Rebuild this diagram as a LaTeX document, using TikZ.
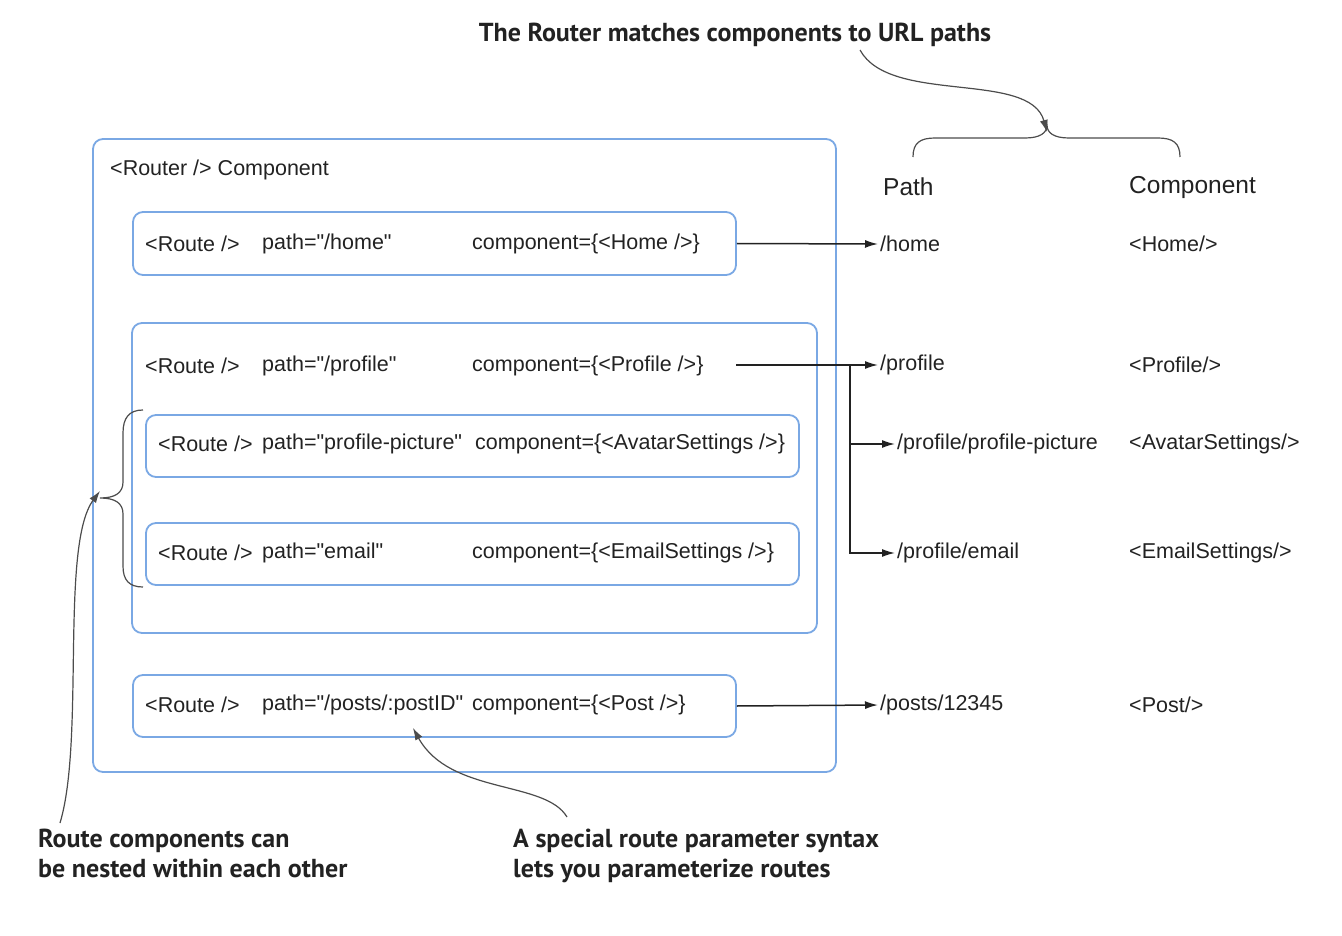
\documentclass[tikz,border=0pt]{standalone}
\usepackage{fontspec}
\setmainfont{Liberation Sans}
\newfontfamily\notefont{PT Sans}
\usetikzlibrary{arrows.meta}
\definecolor{routeblue}{RGB}{122,168,228}
\definecolor{inkgray}{RGB}{34,34,34}
\newcommand{\q}{\textquotedbl}
\tikzset{
  routebox/.style={draw=routeblue, line width=1.8pt, rounded corners=10pt, inner sep=0pt},
  txt/.style={anchor=west, inner sep=0pt, text=inkgray, font=\fontsize{21.5}{25}\selectfont},
  head/.style={anchor=west, inner sep=0pt, text=inkgray, font=\fontsize{24.5}{28}\selectfont},
  note/.style={inner sep=0pt, text=inkgray, align=left, font=\notefont\bfseries\fontsize{26}{30}\selectfont},
  conn/.style={line width=1.5pt, draw=inkgray, shorten >=2pt, -{Latex[length=13pt,width=8pt]}},
  curly/.style={line width=1.2pt, draw=black!70}
}
\begin{document}
\begin{tikzpicture}[x=1pt,y=-1pt]
		%%%%% START %%%%%
		\useasboundingbox (0,0) rectangle (1342,936);
		
		% boxes
		\node[routebox, minimum width=743pt, minimum height=633pt] (router) at (464.5,455.5) {};
		\node[routebox, minimum width=603pt, minimum height=63pt] (home) at (434.5,243.5) {};
		\node[routebox, minimum width=685pt, minimum height=310pt] (profile) at (474.5,478) {};
		\node[routebox, minimum width=653pt, minimum height=62pt] (avatar) at (472.5,446) {};
		\node[routebox, minimum width=653pt, minimum height=62pt] (email) at (472.5,554) {};
		\node[routebox, minimum width=603pt, minimum height=62pt] (post) at (434.5,706) {};
		
		\node[txt] (routerlabel) at (110,170) {<Router /> Component};
		
		% route rows
		\node[txt] (homeroute) at (145,244) {<Route />};
		\node[txt] (homepath) at (262,244) {path=\q/home\q};
		\node[txt] (homecomp) at (472,244) {component=\{<Home />\}};
		
		\node[txt] (profroute) at (145,366) {<Route />};
		\node[txt] (profpath) at (262,366) {path=\q/profile\q};
		\node[txt] (profcomp) at (472,366) {component=\{<Profile />\}};
		
		\node[txt] (picroute) at (158,444) {<Route />};
		\node[txt] (picpath) at (262,444) {path=\q profile-picture\q};
		\node[txt] (piccomp) at (475,444) {component=\{<AvatarSettings />\}};
		
		\node[txt] (mailroute) at (158,553) {<Route />};
		\node[txt] (mailpath) at (262,553) {path=\q email\q};
		\node[txt] (mailcomp) at (472,553) {component=\{<EmailSettings />\}};
		
		\node[txt] (postroute) at (145,705) {<Route />};
		\node[txt] (postpath) at (262,705) {path=\q/posts/:postID\q};
		\node[txt] (postcomp) at (472,705) {component=\{<Post />\}};
		
		% table on the right
		\node[head] (pathhead) at (883,187) {Path};
		\node[head] (comphead) at (1129,187) {Component};
		
		\node[txt] (urlhome) at (880,244) {/home};
		\node[txt] (urlprofile) at (880,365) {/profile};
		\node[txt] (urlpic) at (897,444) {/profile/profile-picture};
		\node[txt] (urlemail) at (897,553) {/profile/email};
		\node[txt] (urlpost) at (880,705) {/posts/12345};
		
		\node[txt] (comphome) at (1129,244) {<Home/>};
		\node[txt] (compprofile) at (1129,365) {<Profile/>};
		\node[txt] (comppic) at (1129,444) {<AvatarSettings/>};
		\node[txt] (compemail) at (1129,553) {<EmailSettings/>};
		\node[txt] (comppost) at (1129,705) {<Post/>};
		
		% arrows to the paths
		\coordinate (profstart) at (736,365);
		\coordinate (fork) at (850,365);
		\draw[conn] (home.east) -- (urlhome.west);
		\draw[conn] (profstart) -- (urlprofile.west);
		\draw[conn] (fork) |- (urlpic.west);
		\draw[conn] (fork) |- (urlemail.west);
		\draw[conn] (post.east) -- (urlpost.west);
		
		% notes
		\node[note, anchor=center] (topnote) at (735,35) {The Router matches components to URL paths};
		\node[note, anchor=north west] (nestnote) at (38,829) {Route components can\\be nested within each other};
		\node[note, anchor=north west] (paramnote) at (513,829) {A special route parameter syntax\\lets you parameterize routes};
		
		% braces
		\coordinate (bracetip) at (1047,125);
		\draw[curly] (913,157) .. controls (913,143) and (920,138) .. (935,138) -- (1025,138)
			.. controls (1040,138) and (1047,133) .. (bracetip)
			.. controls (1047,133) and (1054,138) .. (1069,138) -- (1158,138)
			.. controls (1173,138) and (1180,143) .. (1180,157);
		\coordinate (sidetip) at (100,498);
		\draw[curly] (143,410) .. controls (129,410) and (123,418) .. (123,433) -- (123,482)
			.. controls (123,493) and (115,498) .. (sidetip)
			.. controls (115,498) and (123,503) .. (123,514) -- (123,566)
			.. controls (123,580) and (129,587) .. (143,587);
		
		% curved pointers
		\draw[conn, curly, shorten >=0pt, -{Latex[length=12pt,width=8pt]}] (860,50) .. controls (890,105) and (1030,70) .. ([yshift=-7pt]bracetip);
		\draw[conn, curly, shorten >=0pt, -{Latex[length=12pt,width=8pt]}] (60,823) .. controls (85,740) and (60,545) .. ([yshift=7pt]sidetip);
		\draw[conn, curly, shorten >=0pt, -{Latex[length=12pt,width=8pt]}] (567,817) .. controls (545,780) and (450,795) .. (413,728);
		%%%%% END %%%%%
	\end{tikzpicture}
\end{document}
